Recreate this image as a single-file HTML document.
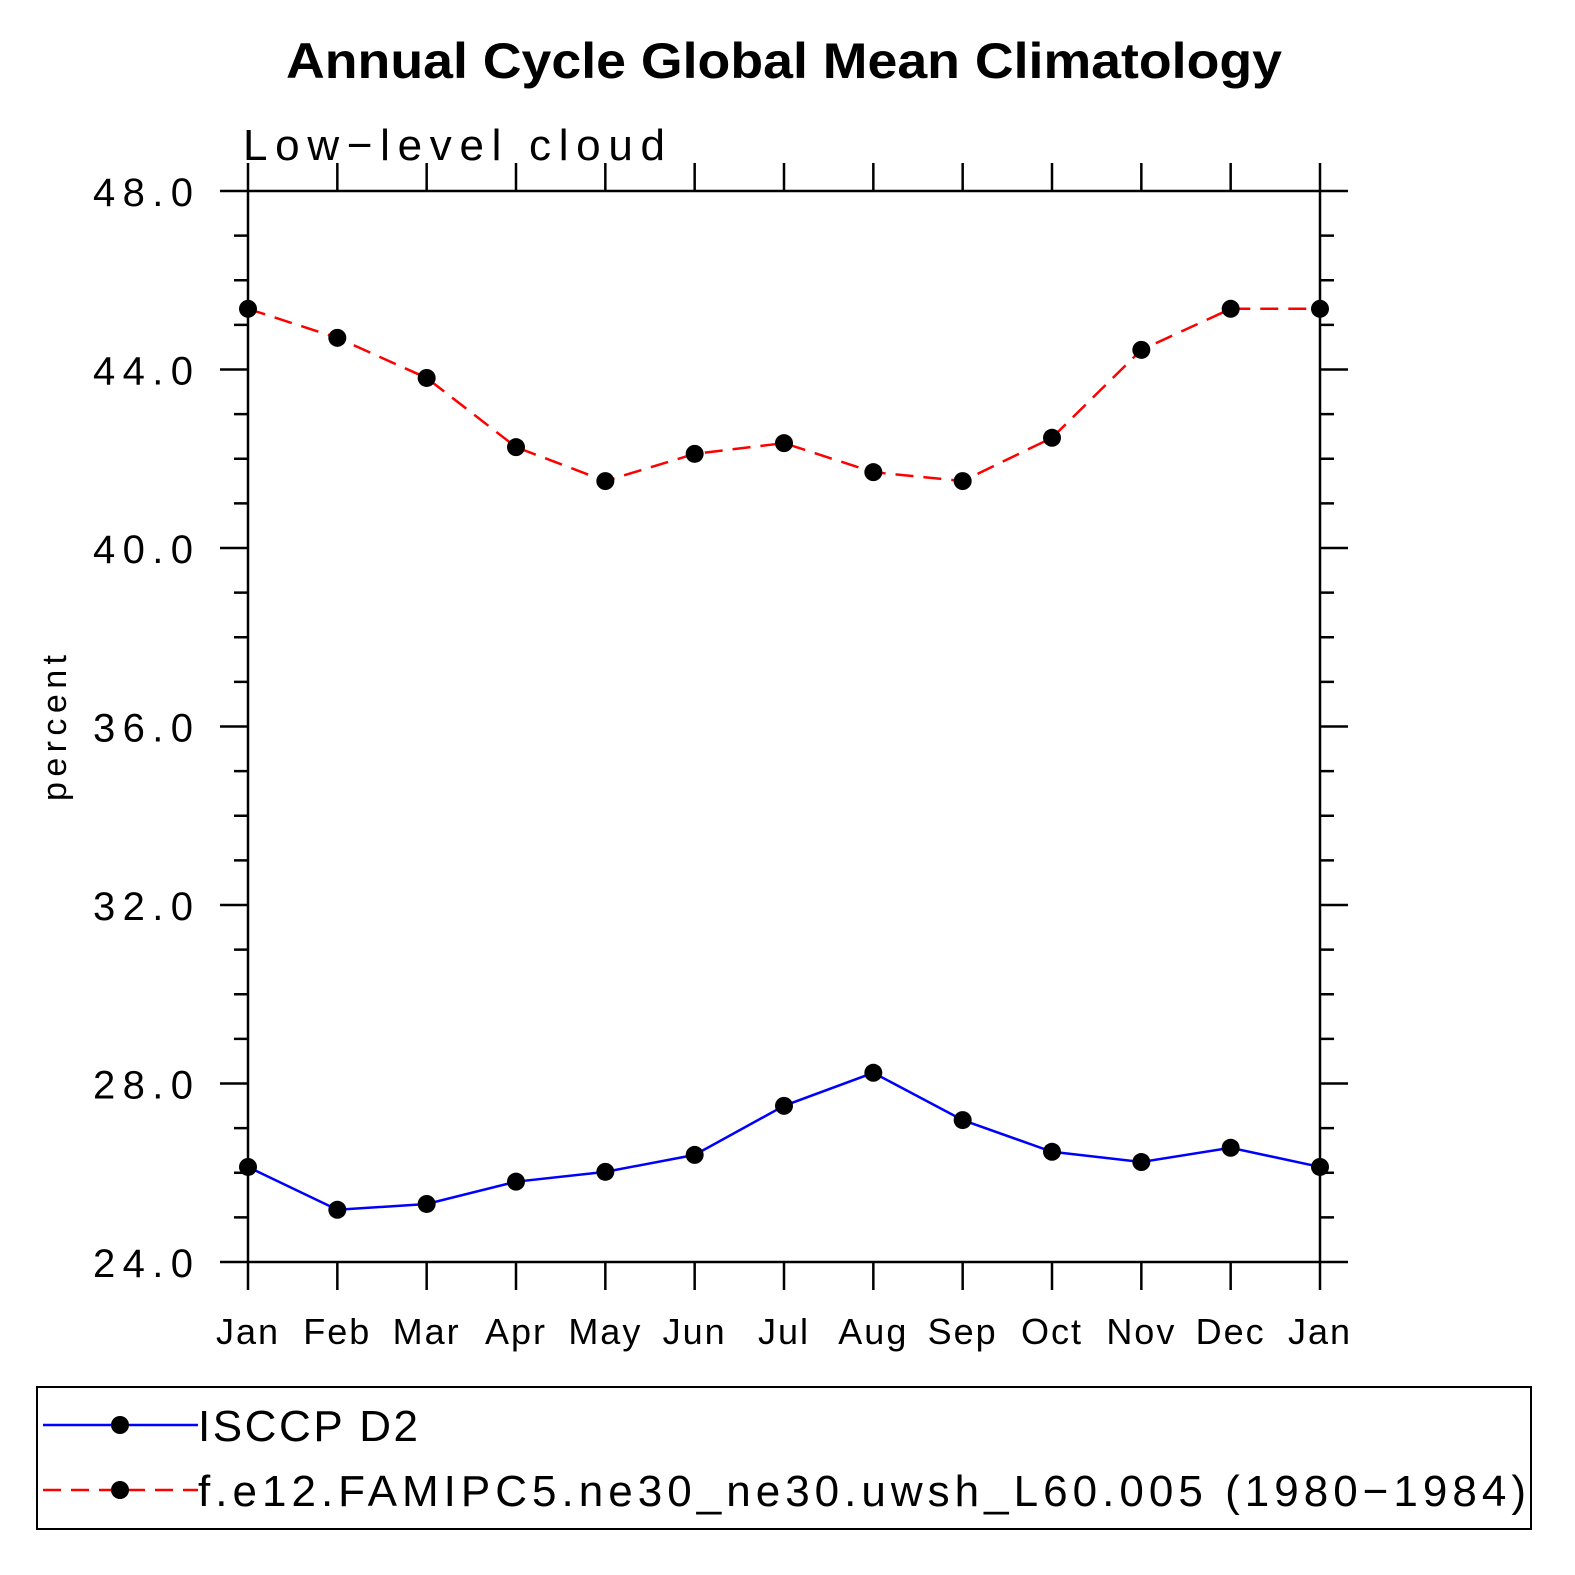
<!DOCTYPE html>
<html><head><meta charset="utf-8"><style>
html,body{margin:0;padding:0;background:#fff;}
svg{display:block;}
text{font-family:"Liberation Sans",sans-serif;}
</style></head><body>
<svg id="chart" width="1575" height="1575" viewBox="0 0 1575 1575" xmlns="http://www.w3.org/2000/svg">
<text x="784" y="78" text-anchor="middle" font-size="50" font-weight="bold" textLength="996" lengthAdjust="spacingAndGlyphs">Annual Cycle Global Mean Climatology</text>
<text x="243" y="160" font-size="44" font-weight="300" textLength="422">Low−level cloud</text>
<text transform="translate(66,728) rotate(-90)" text-anchor="middle" font-size="34" textLength="146">percent</text>
<g id="axes"></g>
<g id="series"></g>
<rect x="37" y="1387" width="1494" height="142" fill="none" stroke="#000" stroke-width="2"/>
<g>
<line x1="43" y1="1425" x2="198" y2="1425" stroke="#00f" stroke-width="2.5"/>
<circle cx="120" cy="1425" r="9" fill="#000"/>
<text x="198" y="1441" font-size="44" font-weight="300" textLength="220">ISCCP D2</text>
</g>
<g>
<line x1="43" y1="1490" x2="198" y2="1490" stroke="#f00" stroke-width="2.5" stroke-dasharray="18,10"/>
<circle cx="120" cy="1490" r="9" fill="#000"/>
<text x="198" y="1506" font-size="44" font-weight="300" textLength="1328">f.e12.FAMIPC5.ne30_ne30.uwsh_L60.005 (1980−1984)</text>
</g>
</svg>
<script>
const months = ["Jan","Feb","Mar","Apr","May","Jun","Jul","Aug","Sep","Oct","Nov","Dec","Jan"];
const isccp = [26.13,25.17,25.30,25.80,26.02,26.40,27.50,28.24,27.18,26.47,26.24,26.56,26.13];
const model = [45.36,44.71,43.81,42.26,41.50,42.11,42.35,41.70,41.50,42.47,44.44,45.36,45.36];
const yTicks = [24,28,32,36,40,44,48];
const yTickLabels = ["24.0","28.0","32.0","36.0","40.0","44.0","48.0"];
const X0=248,X1=1320,Y0=191,Y1=1262,YMIN=24,YMAX=48;
const xs=i=>X0+(X1-X0)*i/(months.length-1);
const ys=v=>Y1-(v-YMIN)/(YMAX-YMIN)*(Y1-Y0);
const NS="http://www.w3.org/2000/svg";
function mk(tag,attrs,parent){const e=document.createElementNS(NS,tag);for(const k in attrs)e.setAttribute(k,attrs[k]);parent.appendChild(e);return e;}
const ax=document.getElementById('axes');
const frame=mk('rect',{x:X0,y:Y0,width:X1-X0,height:Y1-Y0,fill:'none',stroke:'#000','stroke-width':2.5},ax);


for(let v=YMIN;v<=YMAX;v++){
  const maj=(v%4===0),L=maj?28:14,y=ys(v);
  mk('line',{x1:X0-L,y1:y,x2:X0,y2:y,stroke:'#000','stroke-width':2.5},ax);
  mk('line',{x1:X1,y1:y,x2:X1+L,y2:y,stroke:'#000','stroke-width':2.5},ax);
}
yTicks.forEach((v,i)=>{
  const t=mk('text',{x:93,y:ys(v)+15,'font-size':40,'font-weight':300,textLength:100},ax);
  t.textContent=yTickLabels[i];
  
  
});
months.forEach((m,i)=>{
  const x=xs(i);
  mk('line',{x1:x,y1:Y1,x2:x,y2:Y1+28,stroke:'#000','stroke-width':2.5},ax);
  mk('line',{x1:x,y1:Y0-28,x2:x,y2:Y0,stroke:'#000','stroke-width':2.5},ax);
  const t=mk('text',{x:x,y:1344,'text-anchor':'middle','font-size':36,'font-weight':300,'letter-spacing':2},ax);
  t.textContent=m;
  
  
});
const sg=document.getElementById('series');
function draw(vals,color,dash,name){
  const g=mk('g',{},sg);
  
  
  const a={points:vals.map((v,i)=>xs(i)+','+ys(v)).join(' '),fill:'none',stroke:color,'stroke-width':2.5};
  if(dash)a['stroke-dasharray']=dash;
  mk('polyline',a,g);
  vals.forEach((v,i)=>{
    const c=mk('circle',{cx:xs(i),cy:ys(v),r:9,fill:'#000'},g);
    
    
  });
}
draw(isccp,'#00f',null,'series-isccp');
draw(model,'#f00','18,10','series-model');
</script>
</body></html>
